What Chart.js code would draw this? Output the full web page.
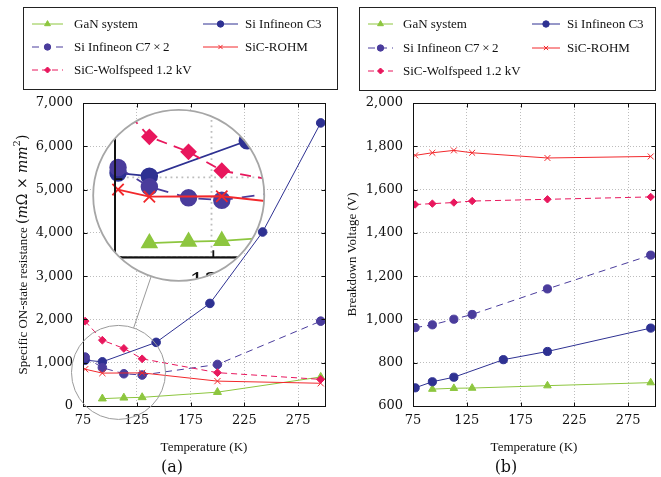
<!DOCTYPE html>
<html><head><meta charset="utf-8">
<script src="https://cdn.jsdelivr.net/npm/chart.js@4.4.1/dist/chart.umd.min.js"></script>
<style>
html,body{margin:0;padding:0;background:#fff;width:661px;height:477px;overflow:hidden;position:relative}
canvas{position:absolute;top:0}
#ca{left:0}
#cb{left:330px}
.cap{position:absolute;font-family:'DejaVu Serif';font-size:16px;line-height:20px;color:#111;top:457px;width:60px;text-align:center}
</style></head><body>
<canvas id="ca" width="345" height="477"></canvas>
<canvas id="cb" width="331" height="477"></canvas>
<div class="cap" style="left:142px">(a)</div>
<div class="cap" style="left:476px">(b)</div>
<script>
// ---------- data ----------
const seriesLabels = ['GaN system', 'Si Infineon C3', 'Si Infineon C7\u2009\u00d7\u20092', 'SiC-ROHM', 'SiC-Wolfspeed 1.2 kV'];
const xTicks  = [75, 125, 175, 225, 275];
const yTicksA = [0, 1000, 2000, 3000, 4000, 5000, 6000, 7000];
const yTicksB = [600, 800, 1000, 1200, 1400, 1600, 1800, 2000];

// (a) specific ON-state resistance
const ganT_a  = [93, 113, 130, 200, 296];
const ganR_a  = [170, 190, 200, 320, 670];
const c3T_a   = [77, 93, 143, 193, 242, 296];
const c3R_a   = [1060, 1020, 1470, 2370, 4020, 6540];
const c7T_a   = [77, 93, 113, 130, 200, 296];
const c7R_a   = [1130, 885, 745, 715, 960, 1960];
const rohmT_a = [77, 93, 130, 200, 296];
const rohmR_a = [850, 760, 765, 575, 525];
const wolfT_a = [77, 93, 113, 130, 200, 296];
const wolfR_a = [1960, 1520, 1330, 1090, 770, 615];

// (b) breakdown voltage
const ganT_b  = [93, 113, 130, 200, 296];
const ganV_b  = [678, 682, 683, 694, 708];
const c3T_b   = [77, 93, 113, 159, 200, 296];
const c3V_b   = [684, 712, 733, 814, 852, 960];
const c7T_b   = [77, 93, 113, 130, 200, 296];
const c7V_b   = [962, 975, 1001, 1023, 1141, 1297];
const rohmT_b = [77, 93, 113, 130, 200, 296];
const rohmV_b = [1758, 1770, 1781, 1770, 1746, 1753];
const wolfT_b = [77, 93, 113, 130, 200, 296];
const wolfV_b = [1531, 1535, 1540, 1547, 1555, 1566];

// ---------- styles ----------
const styles = [
  {color: '#8dc63f', dash: [],     pointStyle: 'triangle', r: 4.6, lr: 3.4},
  {color: '#2e3192', dash: [],     pointStyle: 'circle',   r: 4.3, lr: 3.2},
  {color: '#4a3c9c', dash: [7, 5], pointStyle: 'circle',   r: 4.3, lr: 3.2},
  {color: '#f2282c', dash: [],     pointStyle: 'crossRot', r: 4.4, lr: 3.0},
  {color: '#e8175d', dash: [6, 4], pointStyle: 'rectRot',  r: 3.9, lr: 3.0}
];
const spy = {at: [108, 776], to: [164, 4865], r: 47, mag: 1.82};
const tickFont = {family: 'DejaVu Serif', size: 13};
const titleFont = {family: 'Liberation Serif', size: 13};
const legendFont = '13px "Liberation Serif"';

function makeDatasets(pairs, scale) {
  return pairs.map(([T, V], i) => ({
    label: seriesLabels[i],
    data: T.map((t, k) => ({x: t, y: V[k]})),
    borderColor: styles[i].color,
    backgroundColor: styles[i].color,
    pointBackgroundColor: styles[i].color,
    pointBorderColor: styles[i].color,
    borderWidth: 1,
    borderDash: styles[i].dash,
    pointStyle: styles[i].pointStyle,
    pointRadius: styles[i].r * scale,
    pointHoverRadius: styles[i].r * scale,
    pointBorderWidth: 1,
    tension: 0,
    fill: false,
    order: pairs.length - i
  }));
}

function makeScales(yTicks, ymin, ymax, yTitle) {
  const grid = {color: '#bdbdbd', lineWidth: 1, drawTicks: false};
  const border = {color: '#111', width: 1, dash: [1, 2]};
  return {
    x: {
      type: 'linear', min: 75, max: 300,
      afterBuildTicks: s => { s.ticks = xTicks.map(v => ({value: v})); },
      afterFit: s => { s.height = 49; },
      ticks: {font: tickFont, color: '#111', padding: 7, maxRotation: 0, autoSkip: false},
      grid: grid, border: border,
      title: {display: true, text: 'Temperature (K)', font: titleFont, color: '#111', padding: {top: 0, bottom: 0}}
    },
    y: {
      type: 'linear', min: ymin, max: ymax,
      afterBuildTicks: s => { s.ticks = yTicks.map(v => ({value: v})); },
      afterFit: s => { s.width = 73; },
      ticks: {font: tickFont, color: '#111', padding: 10, autoSkip: false},
      grid: grid, border: border,
      title: {display: !!yTitle, text: yTitle || '', font: titleFont, color: '#111', padding: {top: 5, bottom: 0}}
    }
  };
}

function drawFrame(chart) {
  const ctx = chart.ctx, a = chart.chartArea;
  const L = Math.round(a.left) + 0.5, R = Math.round(a.right) + 0.5;
  const T = Math.round(a.top) + 0.5, B = Math.round(a.bottom) + 0.5;
  ctx.save();
  ctx.strokeStyle = '#111'; ctx.lineWidth = 1; ctx.setLineDash([]);
  ctx.strokeRect(L, T, R - L, B - T);
  ctx.beginPath();
  chart.scales.x.ticks.forEach(t => {
    const p = Math.round(chart.scales.x.getPixelForValue(t.value)) + 0.5;
    ctx.moveTo(p, B); ctx.lineTo(p, B - 4); ctx.moveTo(p, T); ctx.lineTo(p, T + 4);
  });
  chart.scales.y.ticks.forEach(t => {
    const p = Math.round(chart.scales.y.getPixelForValue(t.value)) + 0.5;
    ctx.moveTo(L, p); ctx.lineTo(L + 4, p); ctx.moveTo(R, p); ctx.lineTo(R - 4, p);
  });
  ctx.stroke();
  ctx.restore();
}

function marker(ctx, style, r, x, y) {
  if (Chart.helpers && Chart.helpers.drawPoint) {
    Chart.helpers.drawPoint(ctx, {pointStyle: style, radius: r, rotation: 0, borderWidth: 1}, x, y);
  } else {
    ctx.beginPath(); ctx.arc(x, y, r, 0, 2 * Math.PI); ctx.fill(); ctx.stroke();
  }
}

function drawLegend(chart, cfg) {
  const ctx = chart.ctx;
  ctx.save();
  ctx.strokeStyle = '#222'; ctx.lineWidth = 1;
  ctx.strokeRect(cfg.box[0] + 0.5, cfg.box[1] + 0.5, cfg.box[2], cfg.box[3]);
  chart.data.datasets.forEach((ds, i) => {
    const col = cfg.cols[i % 2], y = cfg.rows[Math.floor(i / 2)];
    const x0 = col.line[0], x1 = col.line[1];
    ctx.save();
    ctx.strokeStyle = ds.borderColor; ctx.lineWidth = 1; ctx.setLineDash(ds.borderDash || []);
    ctx.beginPath(); ctx.moveTo(x0, y); ctx.lineTo(x1, y); ctx.stroke();
    ctx.restore();
    ctx.save();
    ctx.fillStyle = ds.pointBackgroundColor; ctx.strokeStyle = ds.pointBorderColor; ctx.lineWidth = 1;
    marker(ctx, ds.pointStyle, styles[i].lr, (x0 + x1) / 2, y);
    ctx.restore();
    ctx.fillStyle = '#111'; ctx.font = legendFont; ctx.textBaseline = 'middle'; ctx.textAlign = 'left';
    ctx.fillText(ds.label, col.text, y + 0.5);
  });
  ctx.restore();
}

function drawSpy(chart) {
  const ctx = chart.ctx, xs = chart.scales.x, ys = chart.scales.y;
  const cx = xs.getPixelForValue(spy.at[0]), cy = ys.getPixelForValue(spy.at[1]);
  const ix = xs.getPixelForValue(spy.to[0]), iy = ys.getPixelForValue(spy.to[1]);
  const r = spy.r, R = spy.r * spy.mag;
  ctx.save();
  ctx.strokeStyle = '#9a9a9a'; ctx.lineWidth = 1;
  ctx.beginPath(); ctx.arc(cx, cy, r, 0, 2 * Math.PI); ctx.stroke();
  const dx = ix - cx, dy = iy - cy, d = Math.hypot(dx, dy);
  ctx.beginPath(); ctx.moveTo(cx + dx / d * r, cy + dy / d * r); ctx.lineTo(ix - dx / d * R, iy - dy / d * R); ctx.stroke();
  ctx.beginPath(); ctx.arc(ix, iy, R, 0, 2 * Math.PI);
  ctx.fillStyle = '#fff'; ctx.fill();
  ctx.save();
  ctx.clip();
  ctx.translate(ix, iy); ctx.scale(spy.mag, spy.mag); ctx.translate(-cx, -cy);
  xs.draw(chart.chartArea); ys.draw(chart.chartArea);
  const metas = chart.getSortedVisibleDatasetMetas();
  for (let i = metas.length - 1; i >= 0; i--) metas[i].controller.draw();
  drawFrame(chart);
  ctx.restore();
  ctx.beginPath(); ctx.arc(ix, iy, R, 0, 2 * Math.PI);
  ctx.strokeStyle = '#a6a6a6'; ctx.lineWidth = 1.8; ctx.stroke();
  ctx.restore();
}

function drawYTitleA(chart) {
  const ctx = chart.ctx, a = chart.chartArea;
  const parts = [
    {t: 'Specific ON-state resistance ', f: '13px "Liberation Serif"', dy: 0},
    {t: '(', f: '14px "DejaVu Serif"', dy: 0},
    {t: 'm', f: 'italic 14px "DejaVu Serif"', dy: 0},
    {t: '\u03a9 \u00d7 ', f: '14px "DejaVu Serif"', dy: 0},
    {t: 'mm', f: 'italic 14px "DejaVu Serif"', dy: 0},
    {t: '2', f: '10px "DejaVu Serif"', dy: -6},
    {t: ')', f: '14px "DejaVu Serif"', dy: 0}
  ];
  ctx.save();
  let total = 0;
  parts.forEach(p => { ctx.font = p.f; p.w = ctx.measureText(p.t).width; total += p.w; });
  ctx.translate(23, (a.top + a.bottom) / 2);
  ctx.rotate(-Math.PI / 2);
  ctx.fillStyle = '#111'; ctx.textBaseline = 'middle'; ctx.textAlign = 'left';
  let x = -total / 2;
  parts.forEach(p => { ctx.font = p.f; ctx.fillText(p.t, x, p.dy + 0.5); x += p.w; });
  ctx.restore();
}

const common = {
  responsive: false, animation: false, devicePixelRatio: 1,
  plugins: {legend: {display: false}, tooltip: {enabled: false}},
  events: []
};

new Chart(document.getElementById('ca'), {
  type: 'line',
  data: {datasets: makeDatasets([[ganT_a, ganR_a], [c3T_a, c3R_a], [c7T_a, c7R_a], [rohmT_a, rohmR_a], [wolfT_a, wolfR_a]], 1)},
  options: Object.assign({}, common, {
    layout: {padding: {left: 10, right: 20, top: 103, bottom: 22}},
    scales: makeScales(yTicksA, 0, 7000, null)
  }),
  plugins: [{id: 'decorA', afterDraw(chart) {
    drawFrame(chart);
    drawSpy(chart);
    drawYTitleA(chart);
    drawLegend(chart, {box: [23, 7, 314, 82], rows: [24, 47, 70],
      cols: [{line: [32, 63], text: 74}, {line: [203, 238], text: 245}]});
  }}]
});

new Chart(document.getElementById('cb'), {
  type: 'line',
  data: {datasets: makeDatasets([[ganT_b, ganV_b], [c3T_b, c3V_b], [c7T_b, c7V_b], [rohmT_b, rohmV_b], [wolfT_b, wolfV_b]], 0.95)},
  options: Object.assign({}, common, {
    layout: {padding: {left: 10, right: 6, top: 103, bottom: 22}},
    scales: makeScales(yTicksB, 600, 2000, 'Breakdown Voltage (V)')
  }),
  plugins: [{id: 'decorB', afterDraw(chart) {
    drawFrame(chart);
    drawLegend(chart, {box: [29, 7, 296, 83], rows: [24, 48, 71],
      cols: [{line: [38, 63], text: 73}, {line: [202, 230], text: 237}]});
  }}]
});
</script>
</body></html>
